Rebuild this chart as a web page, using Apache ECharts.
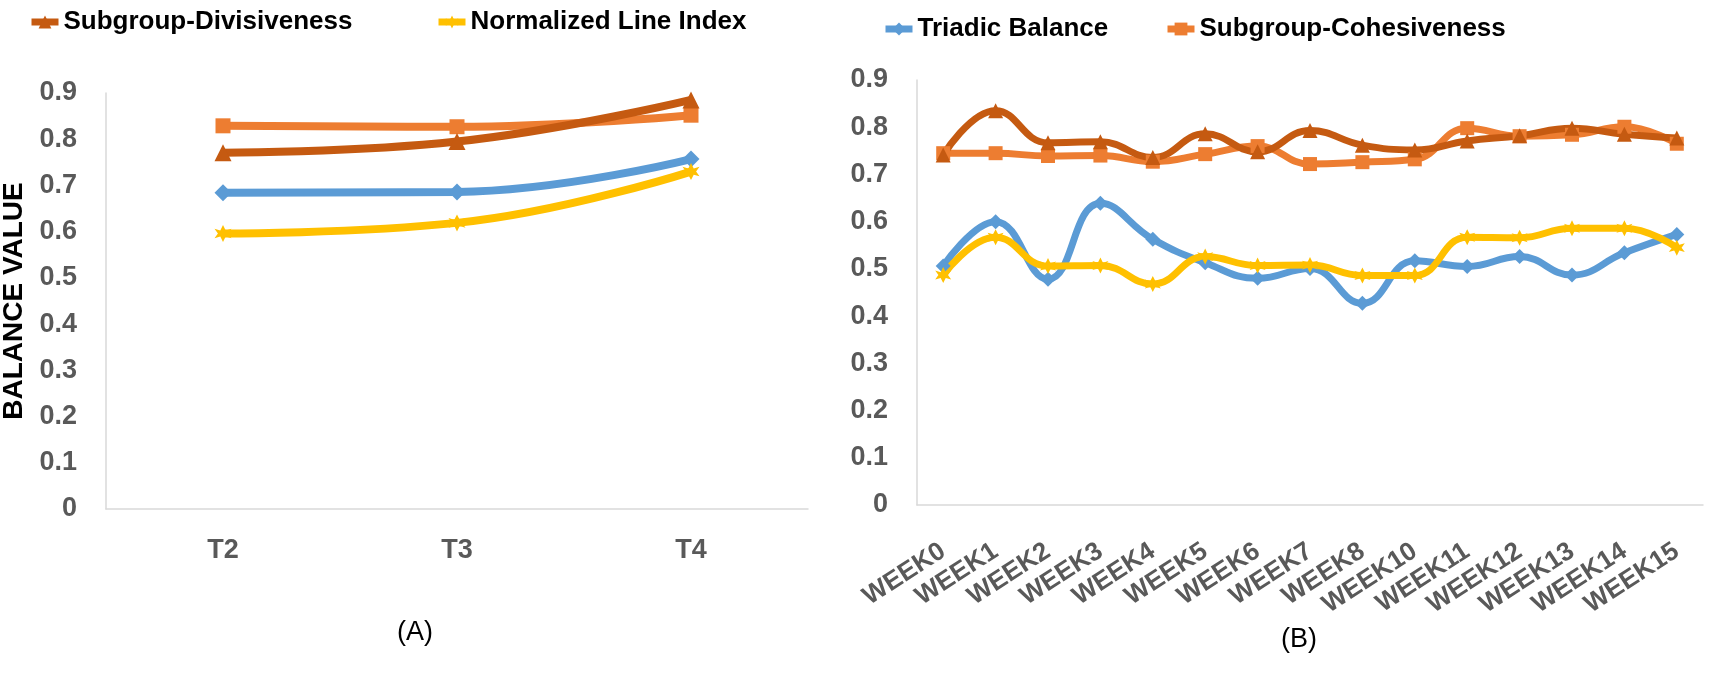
<!DOCTYPE html>
<html>
<head>
<meta charset="utf-8">
<script src="https://cdn.jsdelivr.net/npm/echarts/dist/echarts.min.js"></script>
<style>
  html, body { margin: 0; padding: 0; background: #fff; }
  #chart { width: 1715px; height: 674px; }
</style>
</head>
<body>
<div id="chart"></div>
<script>
// categories
const periods = ["T2", "T3", "T4"]
const weeks = ["WEEK0", "WEEK1", "WEEK2", "WEEK3", "WEEK4", "WEEK5", "WEEK6", "WEEK7",
  "WEEK8", "WEEK10", "WEEK11", "WEEK12", "WEEK13", "WEEK14", "WEEK15"]

// y axis ticks
const yMin = 0
const yMax = 0.9
const yStep = 0.1

// (A) values
const triadicA = [0.684, 0.686, 0.757]
const cohesiveA = [0.829, 0.827, 0.852]
const divisiveA = [0.771, 0.795, 0.885]
const normalizedA = [0.596, 0.619, 0.730]

// (B) values
const triadicB = [0.506, 0.600, 0.478, 0.639, 0.563, 0.513, 0.480, 0.501, 0.427, 0.517, 0.505, 0.526, 0.487, 0.534, 0.573]
const cohesiveB = [0.745, 0.745, 0.739, 0.740, 0.727, 0.743, 0.760, 0.722, 0.726, 0.732, 0.798, 0.781, 0.784, 0.801, 0.765]
const divisiveB = [0.741, 0.835, 0.767, 0.769, 0.736, 0.786, 0.748, 0.793, 0.762, 0.752, 0.771, 0.782, 0.798, 0.785, 0.777]
const normalizedB = [0.487, 0.567, 0.506, 0.507, 0.468, 0.526, 0.507, 0.508, 0.486, 0.486, 0.567, 0.566, 0.586, 0.586, 0.545]

const FONT = '"Liberation Sans", Arial, sans-serif'
const GREY = "#595959"
const starPath = "path://M5,0 L6.6,3.2 L10,2.2 L8,5 L10,7.8 L6.6,6.8 L5,10 L3.4,6.8 L0,7.8 L2,5 L0,2.2 L3.4,3.2 Z"

const styles = {
  "Triadic Balance": { color: "#5B9BD5", symbol: "diamond" },
  "Subgroup-Cohesiveness": { color: "#ED7D31", symbol: "rect" },
  "Subgroup-Divisiveness": { color: "#C55A11", symbol: "triangle" },
  "Normalized Line Index": { color: "#FFC000", symbol: starPath }
}

function makeSeries(name, data, idx, size, width) {
  const s = styles[name]
  return {
    name: name,
    type: "line",
    xAxisIndex: idx,
    yAxisIndex: idx,
    data: data,
    smooth: 0.45,
    symbol: s.symbol,
    symbolSize: size,
    showAllSymbol: true,
    lineStyle: { color: s.color, width: width },
    itemStyle: { color: s.color, borderWidth: 0 }
  }
}

function yAxisCfg(idx, withName) {
  const ax = {
    type: "value",
    gridIndex: idx,
    min: yMin,
    max: yMax,
    interval: yStep,
    splitLine: { show: false },
    axisTick: { show: false },
    axisLine: { show: true, lineStyle: { color: "#D9D9D9", width: 1.5 } },
    axisLabel: {
      margin: 29,
      color: GREY,
      fontFamily: FONT,
      fontWeight: "bold",
      fontSize: 27,
      formatter: (v) => String(Math.round(v * 10) / 10)
    }
  }
  if (withName) {
    ax.name = "BALANCE VALUE"
    ax.nameLocation = "middle"
    ax.nameRotate = 90
    ax.nameGap = 78
    ax.nameTextStyle = { color: "#000", fontFamily: FONT, fontWeight: "bold", fontSize: 28 }
  }
  return ax
}

function legendCfg(name, left, top) {
  return {
    data: [name],
    left: left,
    top: top,
    padding: 0,
    itemWidth: 27,
    itemHeight: 16,
    lineStyle: { width: 7 },
    textStyle: { color: "#000", fontFamily: FONT, fontWeight: "bold", fontSize: 26 }
  }
}

var myChart = echarts.init(document.getElementById("chart"))

let option = {
  animation: false,
  backgroundColor: "#fff",
  legend: [
    legendCfg("Subgroup-Divisiveness", 28, 9),
    legendCfg("Normalized Line Index", 435, 9),
    legendCfg("Triadic Balance", 882, 16),
    legendCfg("Subgroup-Cohesiveness", 1164, 16)
  ],
  grid: [
    { left: 106, top: 93, width: 702, height: 416, containLabel: false, outerBoundsMode: "none" },
    { left: 917, top: 80, width: 786, height: 425, containLabel: false, outerBoundsMode: "none" }
  ],
  xAxis: [
    {
      type: "category",
      gridIndex: 0,
      data: periods,
      boundaryGap: true,
      axisTick: { show: false },
      axisLine: { lineStyle: { color: "#D9D9D9", width: 1.5 } },
      axisLabel: { margin: 28, color: GREY, fontFamily: FONT, fontWeight: "bold", fontSize: 27 }
    },
    {
      type: "category",
      gridIndex: 1,
      data: weeks,
      boundaryGap: true,
      axisTick: { show: false },
      axisLine: { lineStyle: { color: "#D9D9D9", width: 1.5 } },
      axisLabel: {
        interval: 0,
        rotate: 33,
        margin: 44,
        color: GREY,
        fontFamily: FONT,
        fontWeight: "bold",
        fontSize: 26
      }
    }
  ],
  yAxis: [yAxisCfg(0, true), yAxisCfg(1, false)],
  series: [
    makeSeries("Triadic Balance", triadicA, 0, 17, 8),
    makeSeries("Subgroup-Cohesiveness", cohesiveA, 0, 15, 8),
    makeSeries("Subgroup-Divisiveness", divisiveA, 0, 17, 8),
    makeSeries("Normalized Line Index", normalizedA, 0, 17, 8),
    makeSeries("Triadic Balance", triadicB, 1, 15, 7),
    makeSeries("Subgroup-Cohesiveness", cohesiveB, 1, 14, 7),
    makeSeries("Subgroup-Divisiveness", divisiveB, 1, 15, 7),
    makeSeries("Normalized Line Index", normalizedB, 1, 16, 7)
  ],
  graphic: [
    {
      type: "text",
      left: 397,
      top: 619,
      style: { text: "(A)", fill: "#000", font: "27px " + FONT }
    },
    {
      type: "text",
      left: 1281,
      top: 626,
      style: { text: "(B)", fill: "#000", font: "27px " + FONT }
    }
  ]
}

myChart.setOption(option)

window.onresize = () => {
  myChart.resize()
}
</script>
</body>
</html>
